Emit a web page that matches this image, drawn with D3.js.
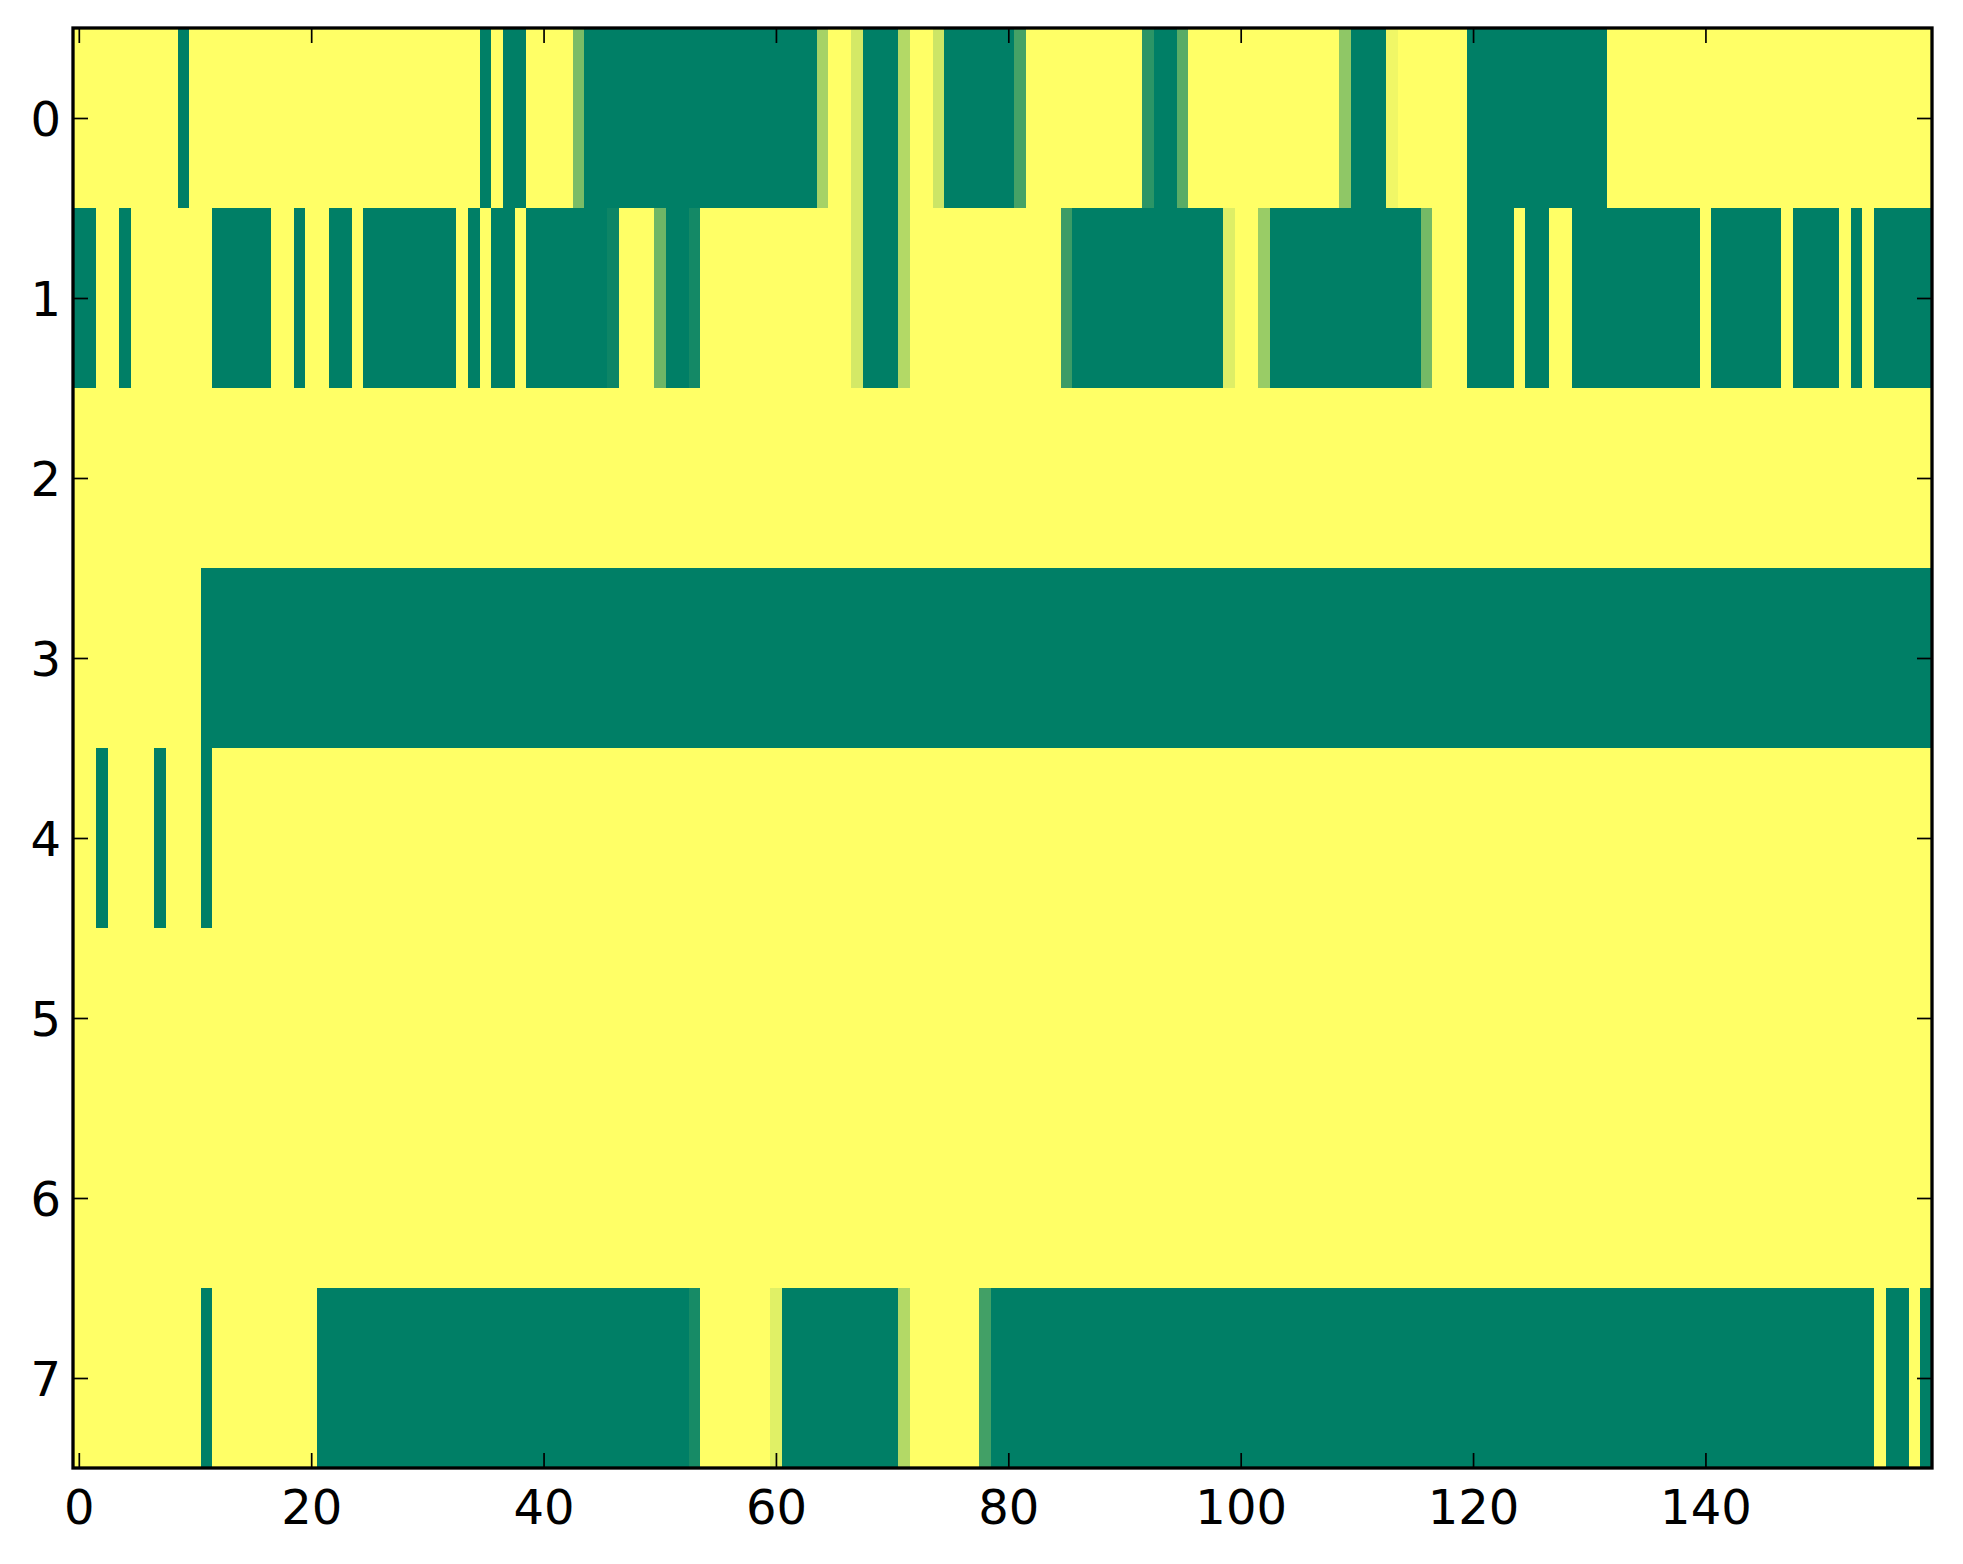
<!DOCTYPE html>
<html>
<head>
<meta charset="utf-8">
<script src="https://cdn.jsdelivr.net/npm/d3@7"></script>
<style>
  body { margin: 0; background: #fff; }
  text { font-family: "DejaVu Sans", sans-serif; }
</style>
</head>
<body>
<div id="chart"></div>
<script>
// Setup the chart
var svgWidth = 1963;
var svgHeight = 1564;

var margin = { top: 28, right: 31, bottom: 96, left: 73 };

var width = svgWidth - margin.left - margin.right;
var height = svgHeight - margin.top - margin.bottom;

// Data: one array per image row (0 = dark green, 1 = yellow)
var xTicks = [0, 20, 40, 60, 80, 100, 120, 140];
var yTicks = [0, 1, 2, 3, 4, 5, 6, 7];

var row0 = [
  1,1,1,1,1,1,1,1,1,0, 1,1,1,1,1,1,1,1,1,1,
  1,1,1,1,1,1,1,1,1,1, 1,1,1,1,1,0,1,0,0,1,
  1,1,1,0.48,0,0,0,0,0,0, 0,0,0,0,0,0,0,0,0,0,
  0,0,0,0,0.65,1,1,0.83,0,0, 0,0.70,1,1,0.80,0,0,0,0,0,
  0,0.27,1,1,1,1,1,1,1,1, 1,1,0.17,0,0,0.35,1,1,1,1,
  1,1,1,1,1,1,1,1,1,0.56, 0,0,0,0.94,1,1,1,1,1,1,
  0,0,0,0,0,0,0,0,0,0, 0,0,1,1,1,1,1,1,1,1,
  1,1,1,1,1,1,1,1,1,1, 1,1,1,1,1,1,1,1,1,1
];
var row1 = [
  0,0,1,1,0,1,1,1,1,1, 1,1,0,0,0,0,0,1,1,0,
  1,1,0,0,1,0,0,0,0,0, 0,0,0,1,0,1,0,0,1,0,
  0,0,0,0,0,0,0.05,1,1,1, 0.43,0,0,0.08,1,1,1,1,1,1,
  1,1,1,1,1,1,1,0.83,0,0, 0,0.70,1,1,1,1,1,1,1,1,
  1,1,1,1,1,0.23,0,0,0,0, 0,0,0,0,0,0,0,0,0,0.87,
  1,1,0.60,0,0,0,0,0,0,0, 0,0,0,0,0,0,0.46,1,1,1,
  0,0,0,0,1,0,0,1,1,0, 0,0,0,0,0,0,0,0,0,0,
  1,0,0,0,0,0,0,1,0,0, 0,0,1,0,1,0,0,0,0,0
];
var row2 = [
  1,1,1,1,1,1,1,1,1,1, 1,1,1,1,1,1,1,1,1,1,
  1,1,1,1,1,1,1,1,1,1, 1,1,1,1,1,1,1,1,1,1,
  1,1,1,1,1,1,1,1,1,1, 1,1,1,1,1,1,1,1,1,1,
  1,1,1,1,1,1,1,1,1,1, 1,1,1,1,1,1,1,1,1,1,
  1,1,1,1,1,1,1,1,1,1, 1,1,1,1,1,1,1,1,1,1,
  1,1,1,1,1,1,1,1,1,1, 1,1,1,1,1,1,1,1,1,1,
  1,1,1,1,1,1,1,1,1,1, 1,1,1,1,1,1,1,1,1,1,
  1,1,1,1,1,1,1,1,1,1, 1,1,1,1,1,1,1,1,1,1
];
var row3 = [
  1,1,1,1,1,1,1,1,1,1, 1,0,0,0,0,0,0,0,0,0,
  0,0,0,0,0,0,0,0,0,0, 0,0,0,0,0,0,0,0,0,0,
  0,0,0,0,0,0,0,0,0,0, 0,0,0,0,0,0,0,0,0,0,
  0,0,0,0,0,0,0,0,0,0, 0,0,0,0,0,0,0,0,0,0,
  0,0,0,0,0,0,0,0,0,0, 0,0,0,0,0,0,0,0,0,0,
  0,0,0,0,0,0,0,0,0,0, 0,0,0,0,0,0,0,0,0,0,
  0,0,0,0,0,0,0,0,0,0, 0,0,0,0,0,0,0,0,0,0,
  0,0,0,0,0,0,0,0,0,0, 0,0,0,0,0,0,0,0,0,0
];
var row4 = [
  1,1,0,1,1,1,1,0,1,1, 1,0,1,1,1,1,1,1,1,1,
  1,1,1,1,1,1,1,1,1,1, 1,1,1,1,1,1,1,1,1,1,
  1,1,1,1,1,1,1,1,1,1, 1,1,1,1,1,1,1,1,1,1,
  1,1,1,1,1,1,1,1,1,1, 1,1,1,1,1,1,1,1,1,1,
  1,1,1,1,1,1,1,1,1,1, 1,1,1,1,1,1,1,1,1,1,
  1,1,1,1,1,1,1,1,1,1, 1,1,1,1,1,1,1,1,1,1,
  1,1,1,1,1,1,1,1,1,1, 1,1,1,1,1,1,1,1,1,1,
  1,1,1,1,1,1,1,1,1,1, 1,1,1,1,1,1,1,1,1,1
];
var row5 = [
  1,1,1,1,1,1,1,1,1,1, 1,1,1,1,1,1,1,1,1,1,
  1,1,1,1,1,1,1,1,1,1, 1,1,1,1,1,1,1,1,1,1,
  1,1,1,1,1,1,1,1,1,1, 1,1,1,1,1,1,1,1,1,1,
  1,1,1,1,1,1,1,1,1,1, 1,1,1,1,1,1,1,1,1,1,
  1,1,1,1,1,1,1,1,1,1, 1,1,1,1,1,1,1,1,1,1,
  1,1,1,1,1,1,1,1,1,1, 1,1,1,1,1,1,1,1,1,1,
  1,1,1,1,1,1,1,1,1,1, 1,1,1,1,1,1,1,1,1,1,
  1,1,1,1,1,1,1,1,1,1, 1,1,1,1,1,1,1,1,1,1
];
var row6 = [
  1,1,1,1,1,1,1,1,1,1, 1,1,1,1,1,1,1,1,1,1,
  1,1,1,1,1,1,1,1,1,1, 1,1,1,1,1,1,1,1,1,1,
  1,1,1,1,1,1,1,1,1,1, 1,1,1,1,1,1,1,1,1,1,
  1,1,1,1,1,1,1,1,1,1, 1,1,1,1,1,1,1,1,1,1,
  1,1,1,1,1,1,1,1,1,1, 1,1,1,1,1,1,1,1,1,1,
  1,1,1,1,1,1,1,1,1,1, 1,1,1,1,1,1,1,1,1,1,
  1,1,1,1,1,1,1,1,1,1, 1,1,1,1,1,1,1,1,1,1,
  1,1,1,1,1,1,1,1,1,1, 1,1,1,1,1,1,1,1,1,1
];
var row7 = [
  1,1,1,1,1,1,1,1,1,1, 1,0,1,1,1,1,1,1,1,1,
  1,0,0,0,0,0,0,0,0,0, 0,0,0,0,0,0,0,0,0,0,
  0,0,0,0,0,0,0,0,0,0, 0,0,0,0.09,1,1,1,1,1,1,
  0.88,0,0,0,0,0,0,0,0,0, 0,0.70,1,1,1,1,1,1,0.26,0,
  0,0,0,0,0,0,0,0,0,0, 0,0,0,0,0,0,0,0,0,0,
  0,0,0,0,0,0,0,0,0,0, 0,0,0,0,0,0,0,0,0,0,
  0,0,0,0,0,0,0,0,0,0, 0,0,0,0,0,0,0,0,0,0,
  0,0,0,0,0,0,0,0,0,0, 0,0,0,0,0,1,0,0,1,0
];

var rows = [row0, row1, row2, row3, row4, row5, row6, row7];

// Flatten into cells
var cells = [];
rows.forEach(function(row, r) {
  row.forEach(function(v, c) {
    cells.push({ row: r, col: c, value: v });
  });
});

var svg = d3.select("#chart")
  .append("svg")
  .attr("width", svgWidth)
  .attr("height", svgHeight);

var chartGroup = svg.append("g")
  .attr("transform", `translate(${margin.left}, ${margin.top})`);

// Scales (pixel centers like imshow)
var xScale = d3.scaleLinear()
  .domain([-0.5, row0.length - 0.5])
  .range([0, width]);

var yScale = d3.scaleLinear()
  .domain([-0.5, rows.length - 0.5])
  .range([0, height]);

// "summer" colormap
var color = d3.scaleLinear()
  .domain([0, 1])
  .range(["#007f66", "#ffff66"]);

// Cells
chartGroup.append("g")
  .attr("shape-rendering", "crispEdges")
  .selectAll("rect")
  .data(cells)
  .enter()
  .append("rect")
  .attr("x", d => xScale(d.col - 0.5))
  .attr("y", d => yScale(d.row - 0.5))
  .attr("width", d => xScale(d.col + 0.5) - xScale(d.col - 0.5) + 0.5)
  .attr("height", d => yScale(d.row + 0.5) - yScale(d.row - 0.5) + 0.5)
  .attr("fill", d => color(d.value));

// Axes, ticks pointing inward
var tickLen = 15;

var bottomAxis = d3.axisBottom(xScale).tickValues(xTicks)
  .tickSizeInner(-tickLen).tickSizeOuter(0).tickPadding(22);
var topAxis = d3.axisTop(xScale).tickValues(xTicks)
  .tickSizeInner(-tickLen).tickSizeOuter(0).tickFormat("");
var leftAxis = d3.axisLeft(yScale).tickValues(yTicks)
  .tickSizeInner(-tickLen).tickSizeOuter(0).tickPadding(12);
var rightAxis = d3.axisRight(yScale).tickValues(yTicks)
  .tickSizeInner(-tickLen).tickSizeOuter(0).tickFormat("");

function styleAxis(g) {
  g.select(".domain").remove();
  g.selectAll(".tick line").attr("stroke", "#000").attr("stroke-width", 1.7);
  g.selectAll(".tick text")
    .attr("fill", "#000")
    .style("font-family", "'DejaVu Sans', sans-serif")
    .style("font-size", "48px");
}

chartGroup.append("g")
  .attr("transform", `translate(0, ${height})`)
  .call(bottomAxis)
  .call(styleAxis);

chartGroup.append("g")
  .call(topAxis)
  .call(styleAxis);

chartGroup.append("g")
  .call(leftAxis)
  .call(styleAxis)
  .selectAll(".tick text").attr("dy", "0.36em");

chartGroup.append("g")
  .attr("transform", `translate(${width}, 0)`)
  .call(rightAxis)
  .call(styleAxis);

// Frame
chartGroup.append("rect")
  .attr("x", 0)
  .attr("y", 0)
  .attr("width", width)
  .attr("height", height)
  .attr("fill", "none")
  .attr("stroke", "#000")
  .attr("stroke-width", 3.3);
</script>
</body>
</html>
